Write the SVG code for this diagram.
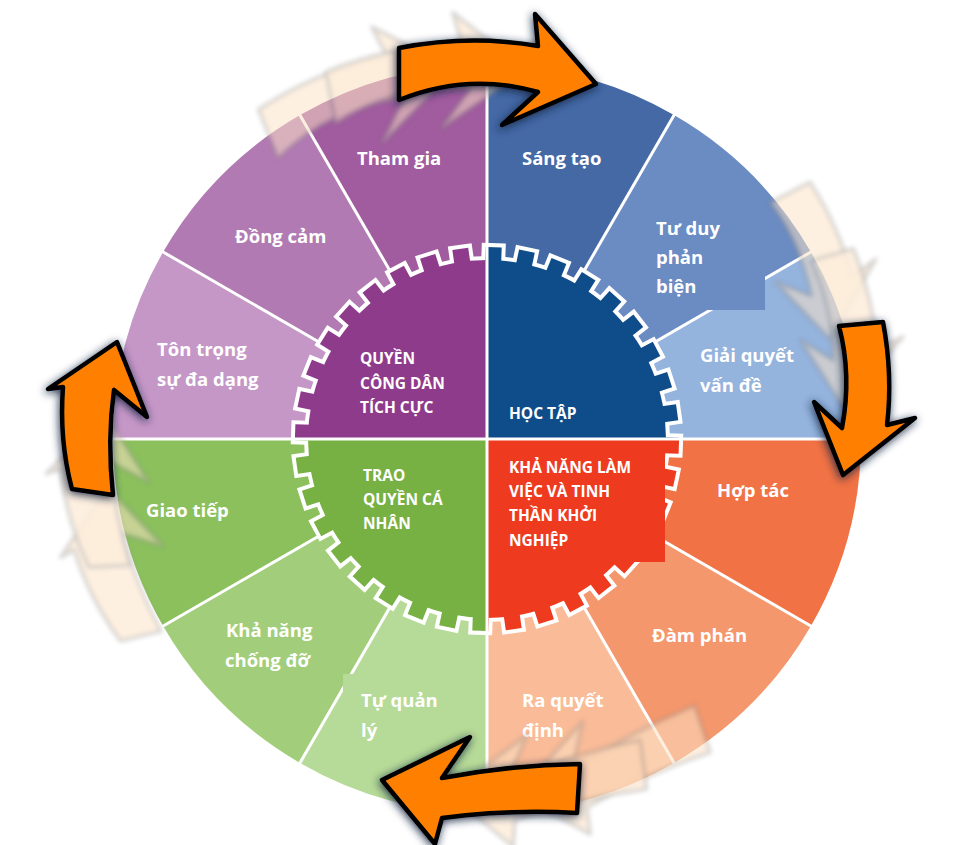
<svg xmlns="http://www.w3.org/2000/svg" xmlns:xlink="http://www.w3.org/1999/xlink" width="966" height="845" viewBox="0 0 966 845">
<style>
.sep{stroke:#fff;stroke-width:3;fill:none}
.lb{font-family:"Open Sans","Noto Sans","DejaVu Sans",sans-serif;font-weight:700;font-size:18.5px;fill:#fff}
.cl{font-size:15.5px}
.arrow{fill:#FF8000;stroke:#000;stroke-width:4.5;stroke-linejoin:round}
.ghost{fill:#FDE3C6;fill-opacity:.85;stroke:#8a8a8a;stroke-opacity:.5;stroke-width:4;stroke-linejoin:round}
</style>
<defs>
<filter id="sh" x="-30%" y="-30%" width="160%" height="160%">
<feGaussianBlur in="SourceAlpha" stdDeviation="4" result="b"/>
<feOffset in="b" dx="-1" dy="2" result="o"/>
<feFlood flood-color="#14233f" flood-opacity=".9"/>
<feComposite in2="o" operator="in" result="s"/>
<feMerge><feMergeNode in="s"/><feMergeNode in="SourceGraphic"/></feMerge>
</filter>
<filter id="bl" x="-20%" y="-20%" width="140%" height="140%"><feGaussianBlur stdDeviation="2"/></filter>
<rect id="t" x="-8" y="-192" width="16" height="16"/>
<g id="gear" transform="translate(487,440)">
<circle r="179"/>
<use href="#t" transform="rotate(2)"/><use href="#t" transform="rotate(12)"/><use href="#t" transform="rotate(22)"/><use href="#t" transform="rotate(32)"/><use href="#t" transform="rotate(42)"/><use href="#t" transform="rotate(52)"/><use href="#t" transform="rotate(62)"/><use href="#t" transform="rotate(72)"/><use href="#t" transform="rotate(82)"/>
<use href="#t" transform="rotate(92)"/><use href="#t" transform="rotate(102)"/><use href="#t" transform="rotate(112)"/><use href="#t" transform="rotate(122)"/><use href="#t" transform="rotate(132)"/><use href="#t" transform="rotate(142)"/><use href="#t" transform="rotate(152)"/><use href="#t" transform="rotate(162)"/><use href="#t" transform="rotate(172)"/>
<use href="#t" transform="rotate(182)"/><use href="#t" transform="rotate(192)"/><use href="#t" transform="rotate(202)"/><use href="#t" transform="rotate(212)"/><use href="#t" transform="rotate(222)"/><use href="#t" transform="rotate(232)"/><use href="#t" transform="rotate(242)"/><use href="#t" transform="rotate(252)"/><use href="#t" transform="rotate(262)"/>
<use href="#t" transform="rotate(272)"/><use href="#t" transform="rotate(282)"/><use href="#t" transform="rotate(292)"/><use href="#t" transform="rotate(302)"/><use href="#t" transform="rotate(312)"/><use href="#t" transform="rotate(322)"/><use href="#t" transform="rotate(332)"/><use href="#t" transform="rotate(342)"/><use href="#t" transform="rotate(352)"/>
</g>
<clipPath id="qUL"><rect x="0" y="0" width="487" height="440"/></clipPath>
<clipPath id="qUR"><rect x="487" y="0" width="479" height="440"/></clipPath>
<clipPath id="qLR"><rect x="487" y="440" width="479" height="405"/></clipPath>
<clipPath id="qLL"><rect x="0" y="440" width="487" height="405"/></clipPath>
<path id="aTop" d="M399,48 Q470,34 538,46 L535,14 L596,84 L502,125 L538,92 Q468,72 399,100 Z"/>
<path id="aRight" d="M839,326 L883,322 Q893,375 887,425 L915,418 L843,475 L814,402 L842,428 Q852,375 839,326 Z"/>
<path id="aBottom" d="M580,764 Q510,765 442,778 L470,737 L382,780 L435,844 L442,818 Q510,809 577,813 Z"/>
<path id="aLeft" d="M72,489 Q59,440 63,387 L48,389 L117,342 L147,417 L114,390 Q107,440 113,495 Z"/>
</defs>

<g id="wheel" transform="translate(0,-1)">
<g id="sectors">
<path fill="#4469A5" d="M487,440 L487,66 A374,374 0 0 1 674,116.1 Z"/>
<path fill="#6B8BC3" d="M487,440 L674,116.1 A374,374 0 0 1 810.9,253 Z"/>
<path fill="#94B3DD" d="M487,440 L810.9,253 A374,374 0 0 1 861,440 Z"/>
<path fill="#F07245" d="M487,440 L861,440 A374,374 0 0 1 810.9,627 Z"/>
<path fill="#F5976C" d="M487,440 L810.9,627 A374,374 0 0 1 674,763.9 Z"/>
<path fill="#F9BB98" d="M487,440 L674,763.9 A374,374 0 0 1 487,814 Z"/>
<path fill="#B6DA97" d="M487,440 L487,814 A374,374 0 0 1 300,763.9 Z"/>
<path fill="#A2CE7B" d="M487,440 L300,763.9 A374,374 0 0 1 163.1,627 Z"/>
<path fill="#8BC05D" d="M487,440 L163.1,627 A374,374 0 0 1 113,440 Z"/>
<path fill="#C597C7" d="M487,440 L113,440 A374,374 0 0 1 163.1,253 Z"/>
<path fill="#B27AB3" d="M487,440 L163.1,253 A374,374 0 0 1 300,116.1 Z"/>
<path fill="#A05C9E" d="M487,440 L300,116.1 A374,374 0 0 1 487,66 Z"/>
</g>
<g id="connectors">
<line class="sep" x1="577" y1="284.1" x2="675" y2="114.4"/>
<line class="sep" x1="642.9" y1="350" x2="812.6" y2="252"/>
<line class="sep" x1="642.9" y1="530" x2="812.6" y2="628"/>
<line class="sep" x1="577" y1="595.9" x2="675" y2="765.6"/>
<line class="sep" x1="397" y1="595.9" x2="299" y2="765.6"/>
<line class="sep" x1="331.1" y1="530" x2="161.4" y2="628"/>
<line class="sep" x1="331.1" y1="350" x2="161.4" y2="252"/>
<line class="sep" x1="397" y1="284.1" x2="299" y2="114.4"/>
</g>
<rect x="640" y="200" width="125" height="111" fill="#6B8BC3"/>
<rect x="343" y="675" width="120" height="70" fill="#B6DA97"/>
<g id="gear-core">
<use href="#gear" fill="#fff" stroke="#fff" stroke-width="8"/>
<use href="#gear" fill="#8E3B8B" clip-path="url(#qUL)"/>
<use href="#gear" fill="#0F4C8A" clip-path="url(#qUR)"/>
<use href="#gear" fill="#EE3A1F" clip-path="url(#qLR)"/>
<use href="#gear" fill="#77B043" clip-path="url(#qLL)"/>
</g>
<line class="sep" x1="487" y1="64" x2="487" y2="816"/>
<line class="sep" x1="111" y1="440" x2="863" y2="440"/>
<rect x="490" y="442" width="175" height="121" fill="#EE3A1F"/>
</g>

<g id="n-tham-gia"><text class="lb" x="357" y="165">Tham gia</text></g>
<g id="n-dong-cam"><text class="lb" x="235" y="243">Đồng cảm</text></g>
<g id="n-ton-trong"><text class="lb" x="157" y="356">Tôn trọng</text><text class="lb" x="157" y="386">sự đa dạng</text></g>
<g id="n-giao-tiep"><text class="lb" x="146" y="517">Giao tiếp</text></g>
<g id="n-kha-nang"><text class="lb" x="226" y="637">Khả năng</text><text class="lb" x="225" y="667">chống đỡ</text></g>
<g id="n-tu-quan-ly"><text class="lb" x="361" y="707">Tự quản</text><text class="lb" x="361" y="737">lý</text></g>
<g id="n-ra-quyet-dinh"><text class="lb" x="522" y="707">Ra quyết</text><text class="lb" x="522" y="737">định</text></g>
<g id="n-dam-phan"><text class="lb" x="652" y="642">Đàm phán</text></g>
<g id="n-hop-tac"><text class="lb" x="717" y="497">Hợp tác</text></g>
<g id="n-giai-quyet"><text class="lb" x="700" y="362">Giải quyết</text><text class="lb" x="700" y="392">vấn đề</text></g>
<g id="n-tu-duy"><text class="lb" x="656" y="235">Tư duy</text><text class="lb" x="656" y="264">phản</text><text class="lb" x="656" y="293">biện</text></g>
<g id="n-sang-tao"><text class="lb" x="522" y="165">Sáng tạo</text></g>
<g id="c-quyen-cong-dan"><text class="lb cl" x="360" y="364">QUYỀN</text><text class="lb cl" x="360" y="389">CÔNG DÂN</text><text class="lb cl" x="360" y="413">TÍCH CỰC</text></g>
<g id="c-hoc-tap"><text class="lb cl" x="509" y="419">HỌC TẬP</text></g>
<g id="c-kha-nang-lam-viec"><text class="lb cl" x="509" y="473">KHẢ NĂNG LÀM</text><text class="lb cl" x="509" y="497">VIỆC VÀ TINH</text><text class="lb cl" x="509" y="521">THẦN KHỞI</text><text class="lb cl" x="509" y="546">NGHIỆP</text></g>
<g id="c-trao-quyen"><text class="lb cl" x="363" y="481">TRAO</text><text class="lb cl" x="363" y="505">QUYỀN CÁ</text><text class="lb cl" x="363" y="529">NHÂN</text></g>

<g id="ghosts" filter="url(#bl)" opacity=".62">
<use href="#aTop" class="ghost" transform="rotate(-22 487 440)"/>
<use href="#aTop" class="ghost" transform="rotate(-11 487 440)"/>
<use href="#aRight" class="ghost" transform="rotate(-22 487 440)"/>
<use href="#aRight" class="ghost" transform="rotate(-11 487 440)"/>
<use href="#aBottom" class="ghost" transform="rotate(-22 487 440)"/>
<use href="#aBottom" class="ghost" transform="rotate(-11 487 440)"/>
<use href="#aLeft" class="ghost" transform="rotate(-22 487 440)"/>
<use href="#aLeft" class="ghost" transform="rotate(-11 487 440)"/>
</g>
<g id="arrows">
<use href="#aTop" class="arrow" filter="url(#sh)"/>
<use href="#aRight" class="arrow" filter="url(#sh)"/>
<use href="#aBottom" class="arrow" filter="url(#sh)"/>
<use href="#aLeft" class="arrow" filter="url(#sh)"/>
</g>
</svg>
